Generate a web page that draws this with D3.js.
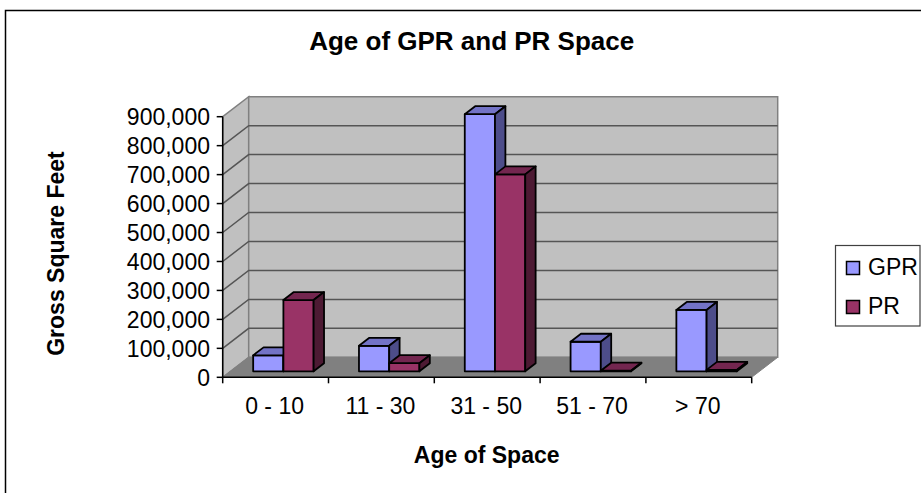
<!DOCTYPE html>
<html><head><meta charset="utf-8">
<script src="https://cdn.jsdelivr.net/npm/d3@7"></script>
<style>body{margin:0;background:#fff}svg{display:block}text{font-family:"Liberation Sans",Arial,sans-serif;fill:#000}</style>
</head><body><svg id="c" width="921" height="493"></svg>
<script>
const categories = ["0 - 10", "11 - 30", "31 - 50", "51 - 70", "> 70"];
const seriesNames = ["GPR", "PR"];
const gprValues = [55000, 88000, 888000, 102000, 212000];
const prValues = [246000, 28000, 680000, 2000, 5000];
const yTickValues = [0, 100000, 200000, 300000, 400000, 500000, 600000, 700000, 800000, 900000];
const titleText = "Age of GPR and PR Space";
const xTitle = "Age of Space";
const yTitle = "Gross Square Feet";

const colors = {
  GPR: {front: "#9999FF", top: "#7373C6", side: "#4D4D8A"},
  PR: {front: "#993366", top: "#73264F", side: "#4D1A33"}
};

const svg = d3.select("#c");
// chart outer border
svg.append("rect").attr("x", 5.5).attr("y", 10.5).attr("width", 1000).attr("height", 1000)
  .attr("fill", "#fff").attr("stroke", "#000").attr("stroke-width", 1.5);

const X0 = 222.7, X1 = 751.7;
const DX = 26, DY = -20;
const y = d3.scaleLinear().domain([0, 900000]).range([377.3, 116.7]);
const xb = d3.scaleBand().domain(categories).range([X0, X1]);
const xs = d3.scaleBand().domain(seriesNames).range([0, xb.bandwidth()]).paddingOuter(0.75);
const F0 = 0.3, F1 = 0.7;
const P = (x, v, d) => [x + d * DX, y(v) + d * DY];
const poly = pts => pts.map(p => p.join(",")).join(" ");

const vmax = 900000;
// side wall
svg.append("polygon").attr("points", poly([P(X0, 0, 0), P(X0, vmax, 0), P(X0, vmax, 1), P(X0, 0, 1)]))
  .attr("fill", "#C0C0C0").attr("stroke", "#808080").attr("stroke-width", 1.5);
// back wall
svg.append("polygon").attr("points", poly([P(X0, 0, 1), P(X0, vmax, 1), P(X1, vmax, 1), P(X1, 0, 1)]))
  .attr("fill", "#C0C0C0").attr("stroke", "#808080").attr("stroke-width", 1.5);
// gridlines
const gl = svg.append("g").attr("stroke", "#555").attr("stroke-width", 1.5).attr("fill", "none");
yTickValues.filter(v => v > 0 && v < vmax).forEach(v => {
  gl.append("polyline").attr("points", poly([P(X0, v, 0), P(X0, v, 1), P(X1, v, 1)]));
});
// floor
svg.append("polygon").attr("points", poly([P(X0, 0, 0), P(X1, 0, 0), P(X1, 0, 1), P(X0, 0, 1)]))
  .attr("fill", "#808080").attr("stroke", "#808080").attr("stroke-width", 1);

// bars
const data = categories.map((c, i) => ({c, vals: [gprValues[i], prValues[i]]}));
const bars = svg.append("g").attr("stroke", "#000").attr("stroke-width", 1.8).attr("stroke-linejoin", "round");
data.forEach(d => {
  seriesNames.forEach((s, j) => {
    const v = d.vals[j];
    const xl = xb(d.c) + xs(s), xr = xl + xs.bandwidth();
    const g = bars.append("g");
    g.append("polygon").attr("points", poly([P(xl, 0, F0), P(xr, 0, F0), P(xr, v, F0), P(xl, v, F0)])).attr("fill", colors[s].front);
    g.append("polygon").attr("points", poly([P(xl, v, F0), P(xr, v, F0), P(xr, v, F1), P(xl, v, F1)])).attr("fill", colors[s].top);
    g.append("polygon").attr("points", poly([P(xr, 0, F0), P(xr, 0, F1), P(xr, v, F1), P(xr, v, F0)])).attr("fill", colors[s].side);
  });
});

// front axes
const ax = svg.append("g").attr("stroke", "#000").attr("stroke-width", 1.5);
ax.append("line").attr("x1", X0).attr("x2", X0).attr("y1", y(vmax)).attr("y2", y(0));
ax.append("line").attr("x1", X0).attr("x2", X1).attr("y1", y(0)).attr("y2", y(0));
yTickValues.forEach(v => ax.append("line").attr("x1", X0 - 6).attr("x2", X0).attr("y1", y(v)).attr("y2", y(v)));
const bounds = categories.map(c => xb(c)).concat([X1]);
bounds.forEach(b => ax.append("line").attr("x1", b).attr("x2", b).attr("y1", y(0)).attr("y2", y(0) + 6));

// y labels
const fmt = d3.format(",");
svg.append("g").selectAll("text").data(yTickValues).join("text")
  .attr("x", 210).attr("y", v => y(v) + 8.3).attr("text-anchor", "end")
  .attr("font-size", 23).text(v => fmt(v));
// x labels
svg.append("g").selectAll("text").data(categories).join("text")
  .attr("x", c => xb(c) + xb.bandwidth() / 2 - 1).attr("y", 414).attr("text-anchor", "middle")
  .attr("font-size", 23).text(c => c);

// titles
svg.append("text").attr("x", 471.7).attr("y", 49.5).attr("text-anchor", "middle")
  .attr("font-size", 26).attr("font-weight", "bold").text(titleText);
svg.append("text").attr("x", 486.7).attr("y", 463).attr("text-anchor", "middle")
  .attr("font-size", 23).attr("font-weight", "bold").text(xTitle);
svg.append("text").attr("transform", "translate(63.5,253.5) rotate(-90)").attr("text-anchor", "middle")
  .attr("font-size", 23).attr("font-weight", "bold").text(yTitle);

// legend
const lg = svg.append("g");
lg.append("rect").attr("x", 835.5).attr("y", 245.5).attr("width", 84.5).attr("height", 80.5)
  .attr("fill", "#fff").attr("stroke", "#404040").attr("stroke-width", 1.2);
seriesNames.forEach((s, j) => {
  lg.append("rect").attr("x", 846.5).attr("y", 261.5 + j * 39).attr("width", 13).attr("height", 13)
    .attr("fill", colors[s].front).attr("stroke", "#000").attr("stroke-width", 1.5);
  lg.append("text").attr("x", 868).attr("y", 274.5 + j * 39).attr("font-size", 23).text(s);
});
</script></body></html>
